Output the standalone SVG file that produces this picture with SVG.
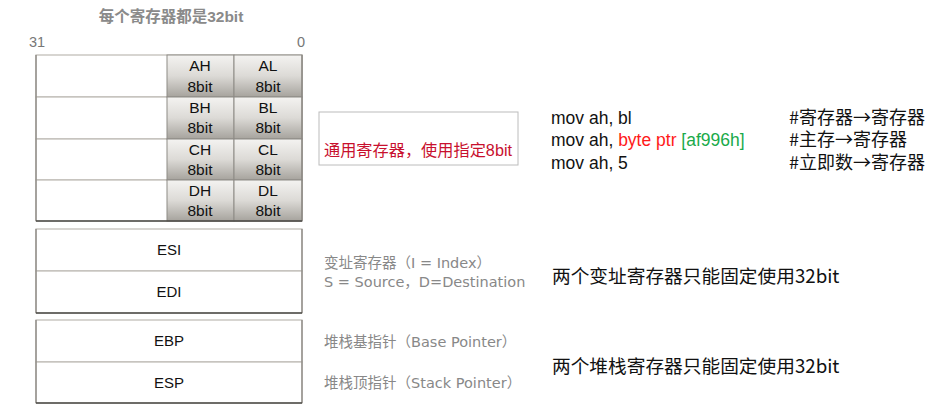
<svg xmlns="http://www.w3.org/2000/svg" width="949" height="417" viewBox="0 0 949 417">
<style>
.bg{fill:#fff}
.row{fill:#fff;stroke:#bdb9b3;stroke-width:1.2}
.cell{fill:url(#g);stroke:#8e8b86;stroke-width:1}
.edge{fill:none;stroke:#8a8782;stroke-width:1.3}
.bot{stroke:#4a4845;stroke-width:1.6}
.reg{font-family:"Liberation Sans","Noto Sans CJK SC",sans-serif;font-size:15.5px;fill:#111;text-anchor:middle}
.reg2{font-family:"Liberation Sans","Noto Sans CJK SC",sans-serif;font-size:15px;fill:#111;text-anchor:middle}
.gray{font-family:"DejaVu Sans","Noto Sans CJK SC",sans-serif;font-size:14.5px;fill:#888}
.code{font-family:"Liberation Sans","Noto Sans CJK SC",sans-serif;font-size:17.5px;fill:#111}
.cn{font-family:"Noto Sans CJK SC",sans-serif;font-size:18px;fill:#111}
.cn2{font-family:"Noto Sans CJK SC",sans-serif;font-size:18.7px;fill:#111}
</style>
<defs>
<linearGradient id="g" x1="0" y1="0" x2="0" y2="1">
<stop offset="0" stop-color="#f4f3f1"/>
<stop offset="0.5" stop-color="#dcdad6"/>
<stop offset="1" stop-color="#a6a39d"/>
</linearGradient>
</defs>
<rect class="bg" width="949" height="417"/>
<text x="171" y="22" text-anchor="middle" font-family="Liberation Sans,Noto Sans CJK SC,sans-serif" font-size="15.5" font-weight="bold" fill="#8a8a8a">每个寄存器都是32bit</text>
<text x="29" y="47" font-family="Liberation Sans,sans-serif" font-size="14.5" fill="#777">31</text>
<text x="297" y="47" font-family="Liberation Sans,sans-serif" font-size="14.5" fill="#777">0</text>

<g id="gp">
<rect class="row" x="36" y="55" width="266" height="42"/>
<rect class="row" x="36" y="97" width="266" height="42"/>
<rect class="row" x="36" y="139" width="266" height="41"/>
<rect class="row" x="36" y="180" width="266" height="41"/>
<rect class="cell" x="167" y="55" width="67" height="42"/>
<rect class="cell" x="234" y="55" width="68" height="42"/>
<rect class="cell" x="167" y="97" width="67" height="42"/>
<rect class="cell" x="234" y="97" width="68" height="42"/>
<rect class="cell" x="167" y="139" width="67" height="41"/>
<rect class="cell" x="234" y="139" width="68" height="41"/>
<rect class="cell" x="167" y="180" width="67" height="41"/>
<rect class="cell" x="234" y="180" width="68" height="41"/>
<line class="edge" x1="36" y1="55" x2="36" y2="221"/>
<line class="edge" x1="302" y1="55" x2="302" y2="221"/>
<line class="bot" x1="36" y1="221" x2="302" y2="221"/>
<text class="reg" x="200" y="71">AH</text><text class="reg" x="200" y="92">8bit</text>
<text class="reg" x="268" y="71">AL</text><text class="reg" x="268" y="92">8bit</text>
<text class="reg" x="200" y="113">BH</text><text class="reg" x="200" y="133">8bit</text>
<text class="reg" x="268" y="113">BL</text><text class="reg" x="268" y="133">8bit</text>
<text class="reg" x="200" y="155">CH</text><text class="reg" x="200" y="175">8bit</text>
<text class="reg" x="268" y="155">CL</text><text class="reg" x="268" y="175">8bit</text>
<text class="reg" x="200" y="196">DH</text><text class="reg" x="200" y="216">8bit</text>
<text class="reg" x="268" y="196">DL</text><text class="reg" x="268" y="216">8bit</text>
</g>

<g id="idx">
<rect class="row" x="36" y="229" width="266" height="42"/>
<rect class="row" x="36" y="271" width="266" height="42"/>
<line class="edge" x1="36" y1="229" x2="36" y2="313"/>
<line class="edge" x1="302" y1="229" x2="302" y2="313"/>
<line class="bot" x1="36" y1="313" x2="302" y2="313"/>
<text class="reg2" x="169" y="255">ESI</text>
<text class="reg2" x="169" y="297">EDI</text>
</g>

<g id="stk">
<rect class="row" x="36" y="320" width="266" height="42"/>
<rect class="row" x="36" y="362" width="266" height="41"/>
<line class="edge" x1="36" y1="320" x2="36" y2="403"/>
<line class="edge" x1="302" y1="320" x2="302" y2="403"/>
<line class="bot" x1="36" y1="403" x2="302" y2="403"/>
<text class="reg2" x="169" y="346">EBP</text>
<text class="reg2" x="169" y="388">ESP</text>
</g>

<g id="note-gp">
<rect x="319" y="112" width="199" height="53" fill="#fff" stroke="#bcbcbc" stroke-width="1"/>
<text x="324" y="156" font-family="Liberation Sans,Noto Sans CJK SC,sans-serif" font-size="16.2" fill="#c8102e">通用寄存器，使用指定8bit</text>
</g>

<g id="code">
<text class="code" x="551" y="124">mov ah, bl</text>
<text class="code" x="551" y="146">mov ah, <tspan fill="#ff1a1a">byte ptr </tspan><tspan fill="#1aaa4a">[af996h]</tspan></text>
<text class="code" x="551" y="169">mov ah, 5</text>
<text class="cn" x="789" y="124">#寄存器→寄存器</text>
<text class="cn" x="789" y="146">#主存→寄存器</text>
<text class="cn" x="789" y="169">#立即数→寄存器</text>
</g>

<g id="labels">
<text class="gray" x="324" y="268">变址寄存器（I = Index）</text>
<text class="gray" x="324" y="287">S = Source，D=Destination</text>
<text class="gray" x="324" y="347">堆栈基指针（Base Pointer）</text>
<text class="gray" x="324" y="388">堆栈顶指针（Stack Pointer）</text>
<text class="cn2" x="552" y="283">两个变址寄存器只能固定使用32bit</text>
<text class="cn2" x="552" y="373">两个堆栈寄存器只能固定使用32bit</text>
</g>
</svg>
